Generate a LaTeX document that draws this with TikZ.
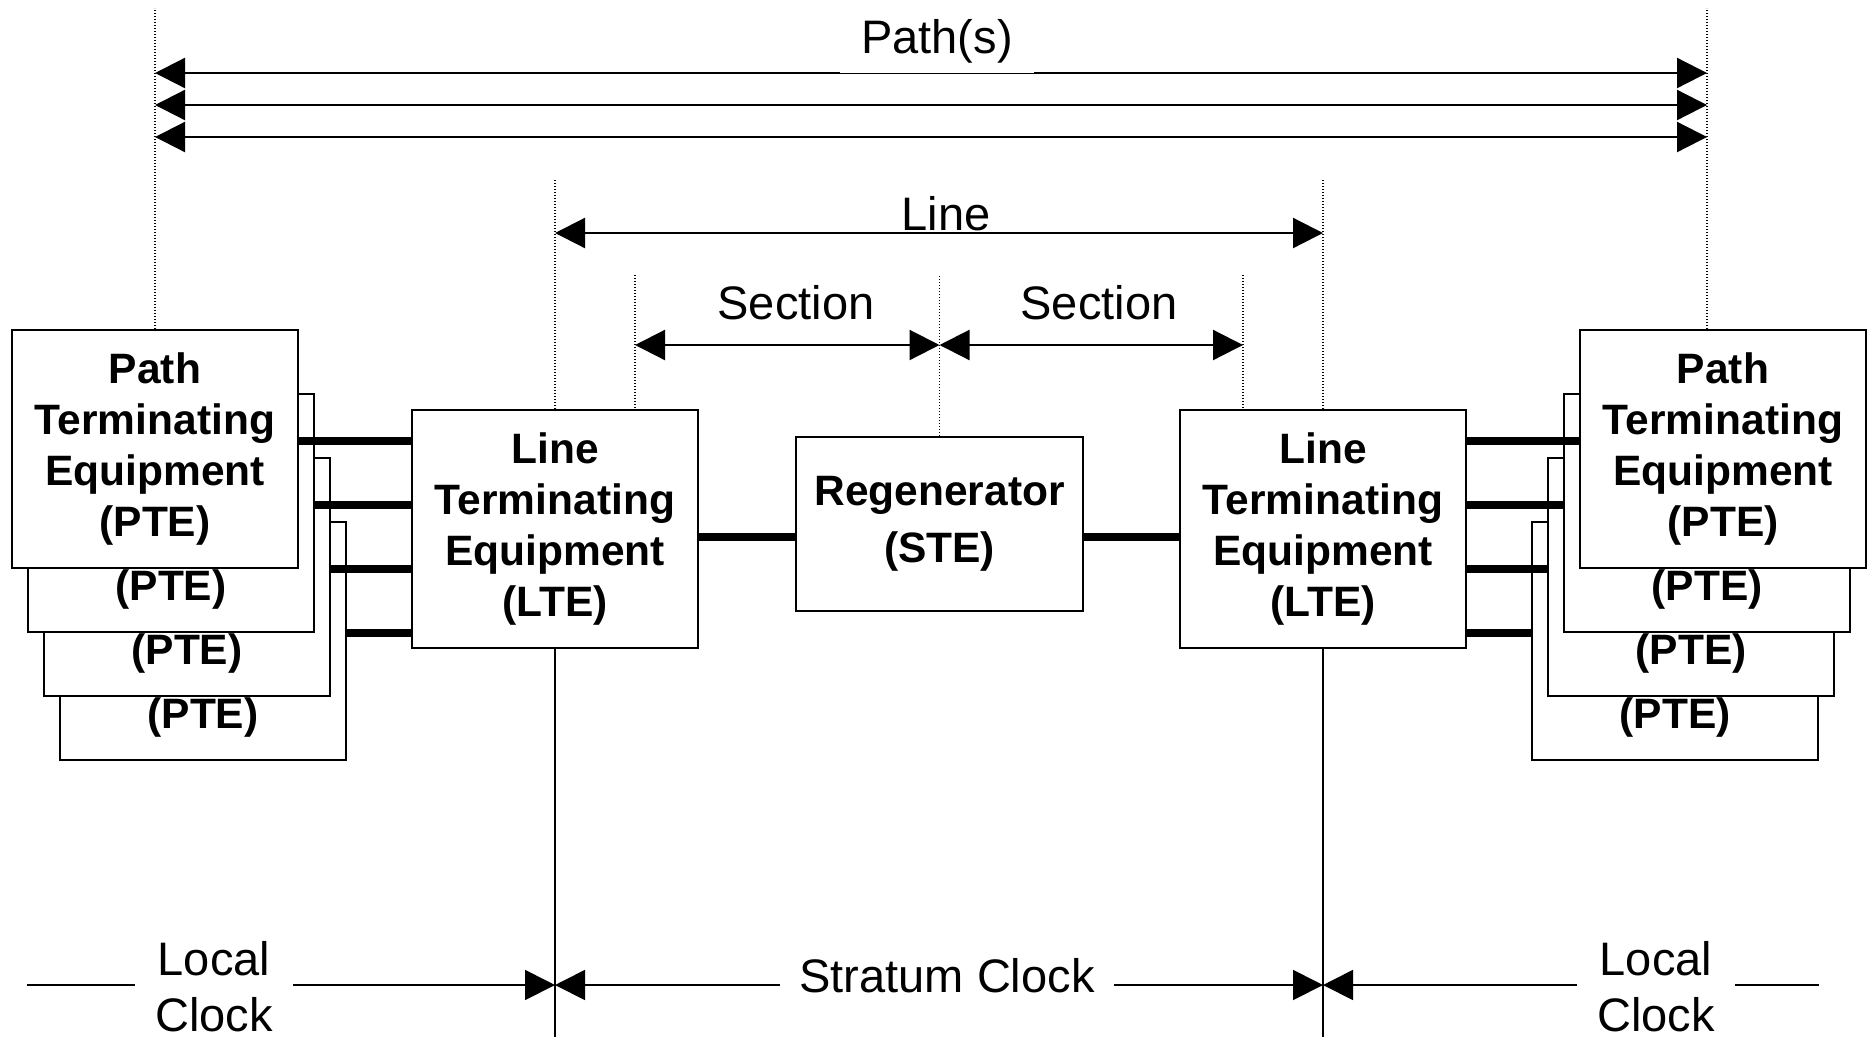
\documentclass[tikz,border=0pt]{standalone}
\usepackage{fontspec}
\setmainfont{Liberation Sans}
\usetikzlibrary{arrows.meta,positioning,calc}

\begin{document}
\begin{tikzpicture}[x=1pt,y=1pt,>={Triangle[length=30pt,width=30pt]},
  box/.style={draw,line width=2pt,fill=white,minimum width=286pt,minimum height=238pt,
    inner sep=0pt,align=center,font=\fontsize{42.5}{51}\selectfont\bfseries},
  bus/.style={line width=7.5pt},
  guide/.style={line width=1.2pt,dash pattern=on 1.2pt off 1.8pt},
  dim/.style={line width=2.2pt,<->},
  lbl/.style={font=\fontsize{47}{56}\selectfont,inner sep=0pt},
  clk/.style={line width=1.8pt}]
\useasboundingbox (0,0) rectangle (1873,-1037);
% equipment
\foreach \i in {4,3,2,1} {
  \node[box] (pteL\i) at ({155+16*(\i-1)},{-449-64*(\i-1)}) {Path\\Terminating\\Equipment\\(PTE)};
  \node[box] (pteR\i) at ({1723-16*(\i-1)},{-449-64*(\i-1)}) {Path\\Terminating\\Equipment\\(PTE)};
}
\node[box] (lteL) at (555,-529) {Line\\Terminating\\Equipment\\(LTE)};
\node[box] (lteR) at (1323,-529) {Line\\Terminating\\Equipment\\(LTE)};
\node[box,minimum width=287pt,minimum height=174pt] (regen) at (939.5,-524) {Regenerator\\[6pt](STE)};
% links
\foreach \i in {1,...,4} {
  \path ($(pteL\i.east)+(0,8)$) coordinate (busL\i);
  \path ($(pteR\i.west)+(0,8)$) coordinate (busR\i);
  \draw[bus] (busL\i) -- (busL\i -| lteL.west);
  \draw[bus] (busR\i -| lteR.east) -- (busR\i);
}
\coordinate (mid) at (0,-537);
\draw[bus] (lteL.east |- mid) -- (regen.west |- mid);
\draw[bus] (regen.east |- mid) -- (lteR.west |- mid);
% extent lines
\coordinate (topP) at (0,-8);
\coordinate (topL) at (0,-179);
\coordinate (secA) at (635,-275);
\coordinate (secB) at (1243,-275);
\draw[guide] (pteL1.north) -- (pteL1.north |- topP);
\draw[guide] (pteR2.north |- pteR1.north) -- (pteR2.north |- topP);
\draw[guide] (lteL.north) -- (lteL.north |- topL);
\draw[guide] (lteR.north) -- (lteR.north |- topL);
\draw[guide] (secA) -- (secA |- lteL.north);
\draw[guide] (regen.north) -- (regen.north |- secA);
\draw[guide] (secB) -- (secB |- lteR.north);
\foreach \y in {73,105,137}
  \draw[dim] (pteL1.north |- 0,-\y) -- (pteR2.north |- 0,-\y);
\draw[dim] (lteL.north |- 0,-233) -- (lteR.north |- 0,-233);
\draw[dim] (secA |- 0,-345) -- (regen.north |- 0,-345);
\draw[dim] (regen.north |- 0,-345) -- (secB |- 0,-345);
\node[lbl,anchor=base,fill=white,inner xsep=21pt,inner ysep=10pt] (pathLbl) at (937,-53) {Path(s)};
\node[lbl,anchor=base] (lineLbl) at (946,-230) {Line};
\node[lbl,anchor=base] (secLbl1) at (796,-319) {Section};
\node[lbl,anchor=base] (secLbl2) at (1099,-319) {Section};
% clocks
\coordinate (clkA) at (27,-985);
\coordinate (clkB) at (1819,-985);
\draw[clk] (lteL.south) -- (lteL.south |- 0,-1037);
\draw[clk] (lteR.south) -- (lteR.south |- 0,-1037);
\draw[clk,->] (clkA) -- (clkA -| lteL.south);
\draw[clk,<->] (clkA -| lteL.south) -- (clkA -| lteR.south);
\draw[clk,<-] (clkA -| lteR.south) -- (clkB);
\node[lbl,fill=white,align=center,inner xsep=20pt,inner ysep=1pt] (localL) at (214,-987) {Local\\Clock};
\node[lbl,fill=white,align=center,inner xsep=20pt,inner ysep=1pt] (localR) at (1656,-987) {Local\\Clock};
\node[lbl,anchor=base,fill=white,inner xsep=19pt,inner ysep=12pt] (stratum) at (947,-992) {Stratum Clock};
\end{tikzpicture}
\end{document}
